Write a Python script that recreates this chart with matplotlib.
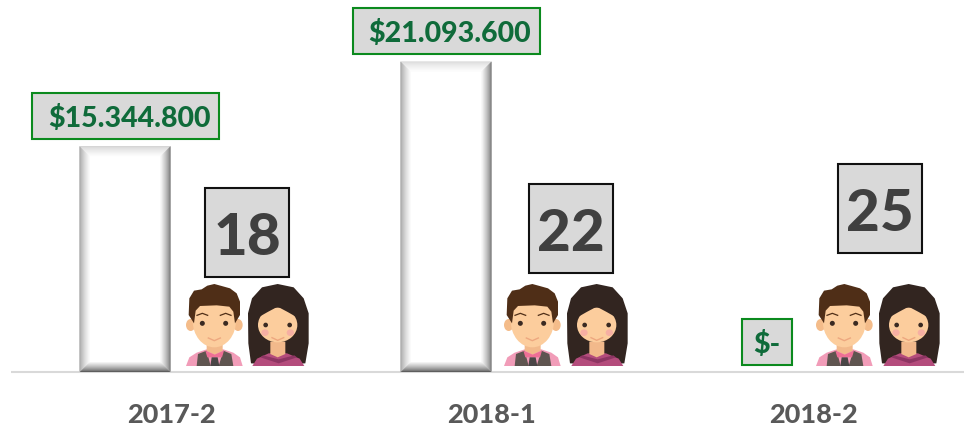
import matplotlib
matplotlib.use("Agg")
import matplotlib.pyplot as plt
import numpy as np
from matplotlib.patches import Rectangle, Polygon, Ellipse
from matplotlib.transforms import Affine2D
from matplotlib.colors import to_rgb

# ---- data ----
categories = ["2017-2", "2018-1", "2018-2"]
amounts = [15344800, 21093600, 0]
amount_labels = ["$15.344.800", "$21.093.600", "$-"]
people = [18, 22, 25]

# ---- layout (pixels, y down) ----
W, H = 964, 428
X0, DX = 171, 321          # category centres
BASE = 372                 # baseline row
PX_PER_USD = 14.72e-6
BAR_W = 91
BAR_OFF = -46
label_box_w = [187, 187, 50]
label_text_dx = [4, 4, 0]
count_dx = [76, 79, 67]
count_cy = [232.5, 228.5, 208.5]
man_dx = [15, 12, 3]
woman_dx = [77, 75, 66]

plt.rcParams["font.family"] = ["Lato", "DejaVu Sans"]
fig = plt.figure(figsize=(W / 100, H / 100), dpi=100, facecolor="white")
ax = fig.add_axes([0, 0, 1, 1])
ax.set_xlim(-X0 / DX, (W - X0) / DX)
ax.set_ylim(-(H - BASE) / PX_PER_USD, BASE / PX_PER_USD)
ax.axis("off")

# pixel space transform (y down)
px = Affine2D().scale(1, -1).translate(0, H)
x_pos = np.arange(len(categories)) + BAR_OFF / DX
bars = ax.bar(x_pos, amounts, width=BAR_W / DX, color="white", edgecolor="none", zorder=2)
ax.plot([(11 - X0) / DX, (W - X0) / DX], [0, 0], color="#D9D9D9", lw=1.5, zorder=1,
        solid_capstyle="butt")


def mix(c1, c2, t):
    a, b = np.array(to_rgb(c1)), np.array(to_rgb(c2))
    return tuple(a + (b - a) * t)


def bevel(x0, y0, x1, y1, n=10):
    """Soft bevel made of nested trapezoid strips, given bar corners in pixels."""
    sides = {"top": "#D0D0D0", "left": "#8A8A8A", "right": "#4F4F4F", "bottom": "#5E5E5E"}
    for i in range(n):
        t = (i / n) ** 0.75
        a, b = i, i + 1
        quads = {
            "top": [(x0 + a, y0 + a), (x1 - a, y0 + a), (x1 - b, y0 + b), (x0 + b, y0 + b)],
            "bottom": [(x0 + a, y1 - a), (x1 - a, y1 - a), (x1 - b, y1 - b), (x0 + b, y1 - b)],
            "left": [(x0 + a, y0 + a), (x0 + b, y0 + b), (x0 + b, y1 - b), (x0 + a, y1 - a)],
            "right": [(x1 - a, y0 + a), (x1 - b, y0 + b), (x1 - b, y1 - b), (x1 - a, y1 - a)],
        }
        for k, q in quads.items():
            ax.add_patch(Polygon(q, closed=True, transform=px, fc=mix(sides[k], "white", t),
                                 ec="none", zorder=3))


def box(cx, cy, w, h, fc, ec, lw, z=5):
    ax.add_patch(Rectangle((cx - w / 2, cy - h / 2), w, h, transform=px, fc=fc, ec=ec, lw=lw, zorder=z))


def man(ox, oy):
    f = lambda pts: [(ox + (a - 498) / 3, oy + (b - 612) / 3) for a, b in pts]
    P = lambda pts, c, z=6: ax.add_patch(Polygon(f(pts), closed=True, transform=px, fc=c, ec="none", zorder=z))
    E = lambda a, b, w, h, c, z=6: ax.add_patch(Ellipse(f([(a, b)])[0], w / 3, h / 3, transform=px, fc=c, ec="none", zorder=z))
    P([(498, 858), (508, 832), (530, 818), (560, 808), (610, 808), (640, 818), (660, 832), (668, 858)], "#F19CB8")
    P([(530, 858), (534, 822), (560, 812), (572, 858)], "#5F5550", 7)
    P([(596, 858), (610, 812), (634, 822), (640, 858)], "#5F5550", 7)
    P([(575, 832), (593, 832), (598, 858), (571, 858)], "#4A4646", 8)
    P([(556, 812), (584, 824), (612, 812), (606, 832), (584, 832), (562, 832)], "#EE6F95", 7.5)
    P([(560, 780), (608, 780), (608, 812), (584, 824), (560, 812)], "#F2B98B", 7)
    E(512, 735, 28, 36, "#F4BC8A")
    E(654, 735, 28, 36, "#F4BC8A")
    E(583, 722, 130, 160, "#FCCD9D", 8)
    P([(522, 730), (506, 705), (508, 655), (522, 632), (545, 628), (562, 617), (583, 612), (605, 618),
       (630, 625), (650, 640), (660, 665), (660, 705), (645, 730), (640, 695), (628, 680), (590, 676),
       (540, 678), (527, 692)], "#4F2E17", 9)
    for a in (547, 617):
        E(a, 730, 15, 15, "#3A2A22", 10)
        ax.plot(*zip(*f([(a - 16, 706), (a, 700), (a + 16, 706)])), color="#4F2E17", lw=0.9, transform=px, zorder=10)
    ax.plot(*zip(*f([(565, 774), (583, 782), (601, 774)])), color="#EDA77F", lw=1, transform=px, zorder=10)


def woman(ox, oy):
    f = lambda pts: [(ox + (a - 683) / 3, oy + (b - 612) / 3) for a, b in pts]
    P = lambda pts, c, z=6: ax.add_patch(Polygon(f(pts), closed=True, transform=px, fc=c, ec="none", zorder=z))
    E = lambda a, b, w, h, c, z=6: ax.add_patch(Ellipse(f([(a, b)])[0], w / 3, h / 3, transform=px, fc=c, ec="none", zorder=z))
    P([(692, 850), (684, 790), (683, 700), (695, 655), (725, 622), (772, 612), (820, 622), (850, 655),
       (865, 700), (865, 790), (855, 850), (772, 855)], "#322520")
    P([(696, 858), (710, 836), (745, 820), (800, 820), (838, 836), (852, 858)], "#B44C7C", 7)
    P([(728, 826), (775, 838), (822, 826), (830, 832), (775, 850), (720, 832)], "#8E3563", 8)
    P([(750, 785), (795, 785), (795, 822), (772, 832), (750, 822)], "#F2B98B", 7)
    E(772, 735, 118, 104, "#FCCD9D", 8)
    P([(704, 745), (706, 670), (772, 640), (838, 670), (840, 745), (830, 712), (802, 696), (772, 680),
       (742, 696), (714, 712)], "#322520", 9)
    E(734, 758, 22, 20, "#F6AFA3", 9)
    E(810, 758, 22, 20, "#F6AFA3", 9)
    for a in (736, 808):
        E(a, 735, 14, 14, "#3A2A22", 10)
    ax.plot(*zip(*f([(755, 773), (772, 781), (790, 773)])), color="#EDA77F", lw=1, transform=px, zorder=10)


for i, cat in enumerate(categories):
    cx = X0 + DX * i
    r = bars[i]
    x0 = (r.get_x() + X0 / DX) * DX
    x1 = x0 + BAR_W
    top = BASE - r.get_height() * PX_PER_USD
    if amounts[i] > 0:
        bevel(x0, top, x1, BASE)
    # amount label, placed above the bar top
    lx, ly = (x0 + x1) / 2, top - 30.5
    box(lx, ly, label_box_w[i], 46, "#D9D9D9", "#0B8A1E", 1.5)
    ax.text(lx + label_text_dx[i], ly, amount_labels[i], transform=px, ha="center", va="center_baseline",
            fontsize=20.5, fontweight="black", color="#0F6B3A", zorder=6)
    # people count
    kx, ky = cx + count_dx[i], count_cy[i]
    box(kx, ky, 84, 89, "#D9D9D9", "#111111", 1.5)
    ax.text(kx, ky + 1, str(people[i]), transform=px, ha="center", va="center_baseline",
            fontsize=42, fontweight="black", color="#404040", zorder=6)
    man(cx + man_dx[i], 284)
    woman(cx + woman_dx[i], 284)
    ax.text(cx, 413, cat, transform=px, ha="center", va="center_baseline",
            fontsize=19.5, fontweight="black", color="#595959", zorder=6)

fig.savefig("out.png", dpi=100, facecolor="white")
